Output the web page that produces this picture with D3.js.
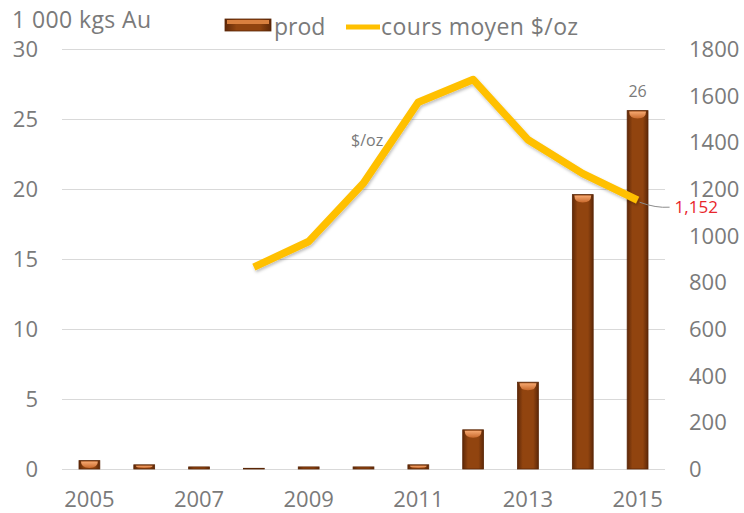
<!DOCTYPE html>
<html>
<head>
<meta charset="utf-8">
<script src="https://cdn.jsdelivr.net/npm/d3@7"></script>
<style>
  body { margin: 0; background: #fff; }
  text { font-family: "Open Sans", Lato, sans-serif; }
</style>
</head>
<body>
<svg width="744" height="513"></svg>
<script>
// production en milliers de kg d'or, cours moyen en $/oz
var years = [2005, 2006, 2007, 2008, 2009, 2010, 2011, 2012, 2013, 2014, 2015]
var prod = [0.6, 0.3, 0.15, 0.05, 0.15, 0.15, 0.3, 2.8, 6.2, 19.6, 25.6]
var coursYears = [2008, 2009, 2010, 2011, 2012, 2013, 2014, 2015]
var cours = [865, 975, 1225, 1572, 1669, 1411, 1266, 1152]
var leftTicks = [0, 5, 10, 15, 20, 25, 30]
var rightTicks = [0, 200, 400, 600, 800, 1000, 1200, 1400, 1600, 1800]
var xLabels = [2005, 2007, 2009, 2011, 2013, 2015]

var svg = d3.select("svg")

var x = d3.scaleBand()
    .domain(years)
    .range([62, 665])
    .paddingInner(0.62)
    .paddingOuter(0.31)

var y = d3.scaleLinear().domain([0, 30]).range([469, 49])
var y2 = d3.scaleLinear().domain([0, 1800]).range([469, 49])

var defs = svg.append("defs")

var grad = defs.append("linearGradient").attr("id", "barGrad")
    .attr("x1", 0).attr("x2", 1).attr("y1", 0).attr("y2", 0)
grad.append("stop").attr("offset", "0%").attr("stop-color", "#5e2808")
grad.append("stop").attr("offset", "25%").attr("stop-color", "#91440f")
grad.append("stop").attr("offset", "75%").attr("stop-color", "#91440f")
grad.append("stop").attr("offset", "100%").attr("stop-color", "#5e2808")

var capGrad = defs.append("linearGradient").attr("id", "capGrad")
    .attr("x1", 0).attr("x2", 0).attr("y1", 0).attr("y2", 1)
capGrad.append("stop").attr("offset", "0%").attr("stop-color", "#f6a870")
capGrad.append("stop").attr("offset", "100%").attr("stop-color", "#c8692c")

var shadow = defs.append("filter").attr("id", "shadow")
    .attr("x", "-10%").attr("y", "-10%").attr("width", "120%").attr("height", "130%")
shadow.append("feDropShadow")
    .attr("dx", 1).attr("dy", 2).attr("stdDeviation", 1.5)
    .attr("flood-color", "#000").attr("flood-opacity", 0.25)

// grille
svg.append("g").selectAll("line")
  .data(leftTicks)
  .enter().append("line")
    .attr("x1", 62).attr("x2", 665)
    .attr("y1", function(d) { return y(d) + 0.5 })
    .attr("y2", function(d) { return y(d) + 0.5 })
    .attr("stroke", "#d9d9d9")
    .attr("stroke-width", 1)

// axes gauche et droite
svg.append("g").selectAll("text")
  .data(leftTicks)
  .enter().append("text")
    .attr("x", 38)
    .attr("y", function(d) { return y(d) })
    .attr("dy", "0.36em")
    .attr("text-anchor", "end")
    .attr("font-size", 22)
    .attr("fill", "#7a7a7a")
    .text(function(d) { return d })

svg.append("g").selectAll("text")
  .data(rightTicks)
  .enter().append("text")
    .attr("x", 689)
    .attr("y", function(d) { return y2(d) })
    .attr("dy", "0.36em")
    .attr("font-size", 22)
    .attr("fill", "#7a7a7a")
    .text(function(d) { return d })

svg.append("g").selectAll("text")
  .data(xLabels)
  .enter().append("text")
    .attr("x", function(d) { return x(d) + x.bandwidth() / 2 })
    .attr("y", 507)
    .attr("text-anchor", "middle")
    .attr("font-size", 22)
    .attr("fill", "#7a7a7a")
    .text(function(d) { return d })

// barres
var bars = svg.append("g").selectAll("g")
  .data(years.map(function(d, i) { return { year: d, value: prod[i] } }))
  .enter().append("g")

bars.append("rect")
    .attr("x", function(d) { return x(d.year) })
    .attr("y", function(d) { return y(d.value) })
    .attr("width", x.bandwidth())
    .attr("height", function(d) { return y(0) - y(d.value) })
    .attr("fill", "url(#barGrad)")
    .attr("stroke", "#5a2606")
    .attr("stroke-width", 0.8)

bars.append("path")
    .attr("d", function(d) {
      var x0 = x(d.year) + 2, x1 = x(d.year) + x.bandwidth() - 2
      var t = y(d.value) + 1
      var h = Math.min(7, y(0) - y(d.value) - 2)
      if (h < 1) return null
      return "M" + x0 + "," + t + "L" + x1 + "," + t +
        "Q" + x1 + "," + (t + h) + " " + (x0 + x1) / 2 + "," + (t + h) +
        "Q" + x0 + "," + (t + h) + " " + x0 + "," + t + "Z"
    })
    .attr("fill", "url(#capGrad)")

// cours moyen
var line = d3.line()
    .x(function(d) { return x(d.year) + x.bandwidth() / 2 })
    .y(function(d) { return y2(d.value) })

var coursData = coursYears.map(function(d, i) { return { year: d, value: cours[i] } })

svg.append("path")
    .datum(coursData)
    .attr("d", line)
    .attr("fill", "none")
    .attr("stroke", "#ffc000")
    .attr("stroke-width", 7.5)
    .attr("stroke-linejoin", "round")
    .attr("filter", "url(#shadow)")

// étiquettes
var last = coursData[coursData.length - 1]
var lx = x(last.year) + x.bandwidth() / 2
svg.append("path")
    .attr("d", "M" + (lx + 2) + "," + (y2(last.value) + 2) +
      "Q" + (lx + 18) + "," + (y2(last.value) + 8) + " " + (lx + 32) + "," + (y2(last.value) + 7))
    .attr("fill", "none")
    .attr("stroke", "#8c8c8c")
    .attr("stroke-width", 1)

svg.append("text")
    .attr("x", lx + 37)
    .attr("y", y2(last.value) + 7)
    .attr("dy", "0.36em")
    .attr("font-size", 17)
    .attr("fill", "#e8262b")
    .text(d3.format(",")(last.value))

svg.append("text")
    .attr("x", x(2015) + x.bandwidth() / 2)
    .attr("y", y(prod[prod.length - 1]) - 14)
    .attr("text-anchor", "middle")
    .attr("font-size", 16)
    .attr("fill", "#7a7a7a")
    .text(Math.round(prod[prod.length - 1]))

svg.append("text")
    .attr("x", 351)
    .attr("y", 146)
    .attr("font-size", 16)
    .attr("fill", "#7a7a7a")
    .text("$/oz")

// titre axe + légende
svg.append("text")
    .attr("x", 12)
    .attr("y", 28)
    .attr("font-size", 23)
    .attr("letter-spacing", 0.4)
    .attr("fill", "#7a7a7a")
    .text("1 000 kgs Au")

var legend = svg.append("g")
legend.append("rect")
    .attr("x", 225).attr("y", 19).attr("width", 46).attr("height", 12)
    .attr("fill", "url(#barGrad)")
    .attr("stroke", "#5a2606").attr("stroke-width", 0.8)
legend.append("rect")
    .attr("x", 227).attr("y", 20).attr("width", 42).attr("height", 4)
    .attr("fill", "#d9803f")
legend.append("text")
    .attr("x", 274).attr("y", 35)
    .attr("font-size", 23).attr("fill", "#7a7a7a")
    .text("prod")
legend.append("line")
    .attr("x1", 346).attr("x2", 380).attr("y1", 27).attr("y2", 27)
    .attr("stroke", "#ffc000").attr("stroke-width", 5)
legend.append("text")
    .attr("x", 381).attr("y", 35)
    .attr("font-size", 23)
    .attr("letter-spacing", 0.4)
    .attr("fill", "#7a7a7a")
    .text("cours moyen $/oz")
</script>
</body>
</html>
